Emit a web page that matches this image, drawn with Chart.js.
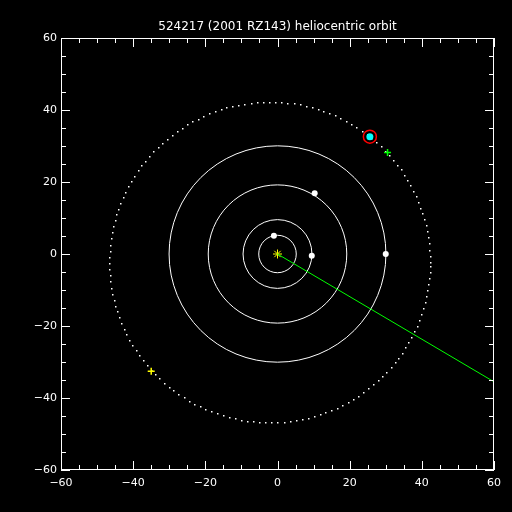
<!DOCTYPE html>
<html>
<head>
<meta charset="utf-8">
<script src="https://cdn.jsdelivr.net/npm/chart.js@4"></script>
<style>
    html, body { margin: 0; padding: 0; background: #000; }
    canvas { display: block; }
</style>
</head>
<body>
<canvas id="orbitChart" width="512" height="512"></canvas>
<script>
// Datos (UA)
const titleText = '524217 (2001 RZ143) heliocentric orbit';
const tickValues = [-60, -40, -20, 0, 20, 40, 60];
const minorStep = 5;

const planetOrbitRadii = [5.2, 9.55, 19.2, 30.05];
const planetX = [-1.0, 9.5, 10.3, 30.0];
const planetY = [5.1, -0.5, 16.9, 0.0];

// órbita del objeto (elipse punteada): centro y semiejes
const objectOrbitCenter = [-2.2, -2.2];
const objectOrbitAxes = [44.45, 44.55];

const objectPos = [25.6, 32.6];
const greenMark = [30.5, 28.2];
const yellowMark = [-35.0, -32.6];
const sunPos = [0, 0];
const lineEnd = [60, -35.5];

const tickFont = '11px "DejaVu Sans", sans-serif';
const titleFont = '12px "DejaVu Sans", sans-serif';

function fmt(v) {
    return v < 0 ? '\u2212' + Math.abs(v) : String(v);
}

const orbitPlugin = {
    id: 'orbits',
    beforeDatasetsDraw(chart) {
        const { ctx, chartArea, scales: { x, y } } = chart;
        ctx.save();
        ctx.beginPath();
        ctx.rect(chartArea.left, chartArea.top, chartArea.width, chartArea.height);
        ctx.clip();

        // órbitas de los planetas
        const cx = x.getPixelForValue(0);
        const cy = y.getPixelForValue(0);
        ctx.strokeStyle = '#fff';
        ctx.lineWidth = 1;
        planetOrbitRadii.forEach(r => {
            const rx = x.getPixelForValue(r) - cx;
            const ry = cy - y.getPixelForValue(r);
            ctx.beginPath();
            ctx.ellipse(cx, cy, rx, ry, 0, 0, Math.PI * 2);
            ctx.stroke();
        });

        // órbita del objeto, punteada
        ctx.fillStyle = '#fff';
        for (let a = 0; a < 360; a += 2.2) {
            const t = a * Math.PI / 180;
            const px = x.getPixelForValue(objectOrbitCenter[0] + objectOrbitAxes[0] * Math.cos(t));
            const py = y.getPixelForValue(objectOrbitCenter[1] + objectOrbitAxes[1] * Math.sin(t));
            ctx.fillRect(Math.round(px), Math.round(py), 1.5, 1.5);
        }
        ctx.restore();
    },
    afterDraw(chart) {
        const { ctx, chartArea: a, scales: { x, y } } = chart;
        ctx.save();
        ctx.strokeStyle = '#fff';
        ctx.lineWidth = 1;
        ctx.strokeRect(a.left + 0.5, a.top + 0.5, a.width - 1, a.height - 1);

        // marcas hacia adentro en los cuatro lados
        ctx.beginPath();
        for (let v = -60; v <= 60; v += minorStep) {
            const len = v % 20 === 0 ? 9 : 5;
            const px = Math.round(x.getPixelForValue(v)) + 0.5;
            const py = Math.round(y.getPixelForValue(v)) + 0.5;
            ctx.moveTo(px, a.bottom); ctx.lineTo(px, a.bottom - len);
            ctx.moveTo(px, a.top); ctx.lineTo(px, a.top + len);
            ctx.moveTo(a.left, py); ctx.lineTo(a.left + len, py);
            ctx.moveTo(a.right, py); ctx.lineTo(a.right - len, py);
        }
        ctx.stroke();

        ctx.fillStyle = '#fff';
        ctx.font = tickFont;
        ctx.textBaseline = 'middle';
        ctx.textAlign = 'center';
        tickValues.forEach(v => {
            ctx.fillText(fmt(v), x.getPixelForValue(v), a.bottom + 13);
        });
        ctx.textAlign = 'right';
        tickValues.forEach(v => {
            ctx.fillText(fmt(v), a.left - 4, y.getPixelForValue(v));
        });

        ctx.font = titleFont;
        ctx.textAlign = 'center';
        ctx.fillText(titleText, (a.left + a.right) / 2, 27);
        ctx.restore();
    }
};

const ctx = document.getElementById('orbitChart').getContext('2d');
new Chart(ctx, {
    type: 'scatter',
    data: {
        datasets: [
            {
                label: 'Línea',
                data: [{ x: sunPos[0], y: sunPos[1] }, { x: lineEnd[0], y: lineEnd[1] }],
                showLine: true,
                borderColor: '#00ff00',
                borderWidth: 1,
                pointRadius: 0
            },
            {
                label: 'Planetas',
                data: planetX.map((v, i) => ({ x: v, y: planetY[i] })),
                pointStyle: 'circle',
                pointRadius: 3,
                backgroundColor: '#fff',
                borderColor: '#fff',
                borderWidth: 0
            },
            {
                label: 'Sol',
                data: [{ x: sunPos[0], y: sunPos[1] }],
                pointStyle: 'star',
                pointRadius: 4.5,
                borderColor: '#ffff00',
                borderWidth: 1
            },
            {
                label: 'Marca amarilla',
                data: [{ x: yellowMark[0], y: yellowMark[1] }],
                pointStyle: 'cross',
                pointRadius: 3.5,
                borderColor: '#ffff00',
                borderWidth: 1.5
            },
            {
                label: 'Marca verde',
                data: [{ x: greenMark[0], y: greenMark[1] }],
                pointStyle: 'cross',
                pointRadius: 3.5,
                borderColor: '#00ff00',
                borderWidth: 1.5
            },
            {
                label: 'Objeto',
                data: [{ x: objectPos[0], y: objectPos[1] }],
                pointStyle: 'circle',
                pointRadius: 3.5,
                backgroundColor: '#00ffff',
                borderColor: '#00ffff',
                borderWidth: 0
            },
            {
                label: 'Anillo',
                data: [{ x: objectPos[0], y: objectPos[1] }],
                pointStyle: 'circle',
                pointRadius: 6.5,
                backgroundColor: 'rgba(0,0,0,0)',
                borderColor: '#ff0000',
                borderWidth: 1.5
            }
        ]
    },
    options: {
        responsive: false,
        animation: false,
        devicePixelRatio: 1,
        layout: { padding: { left: 61, right: 18, top: 38, bottom: 42 } },
        plugins: {
            legend: { display: false },
            tooltip: { enabled: false }
        },
        scales: {
            x: { type: 'linear', min: -60, max: 60, display: false },
            y: { type: 'linear', min: -60, max: 60, display: false }
        }
    },
    plugins: [orbitPlugin]
});
</script>
</body>
</html>
